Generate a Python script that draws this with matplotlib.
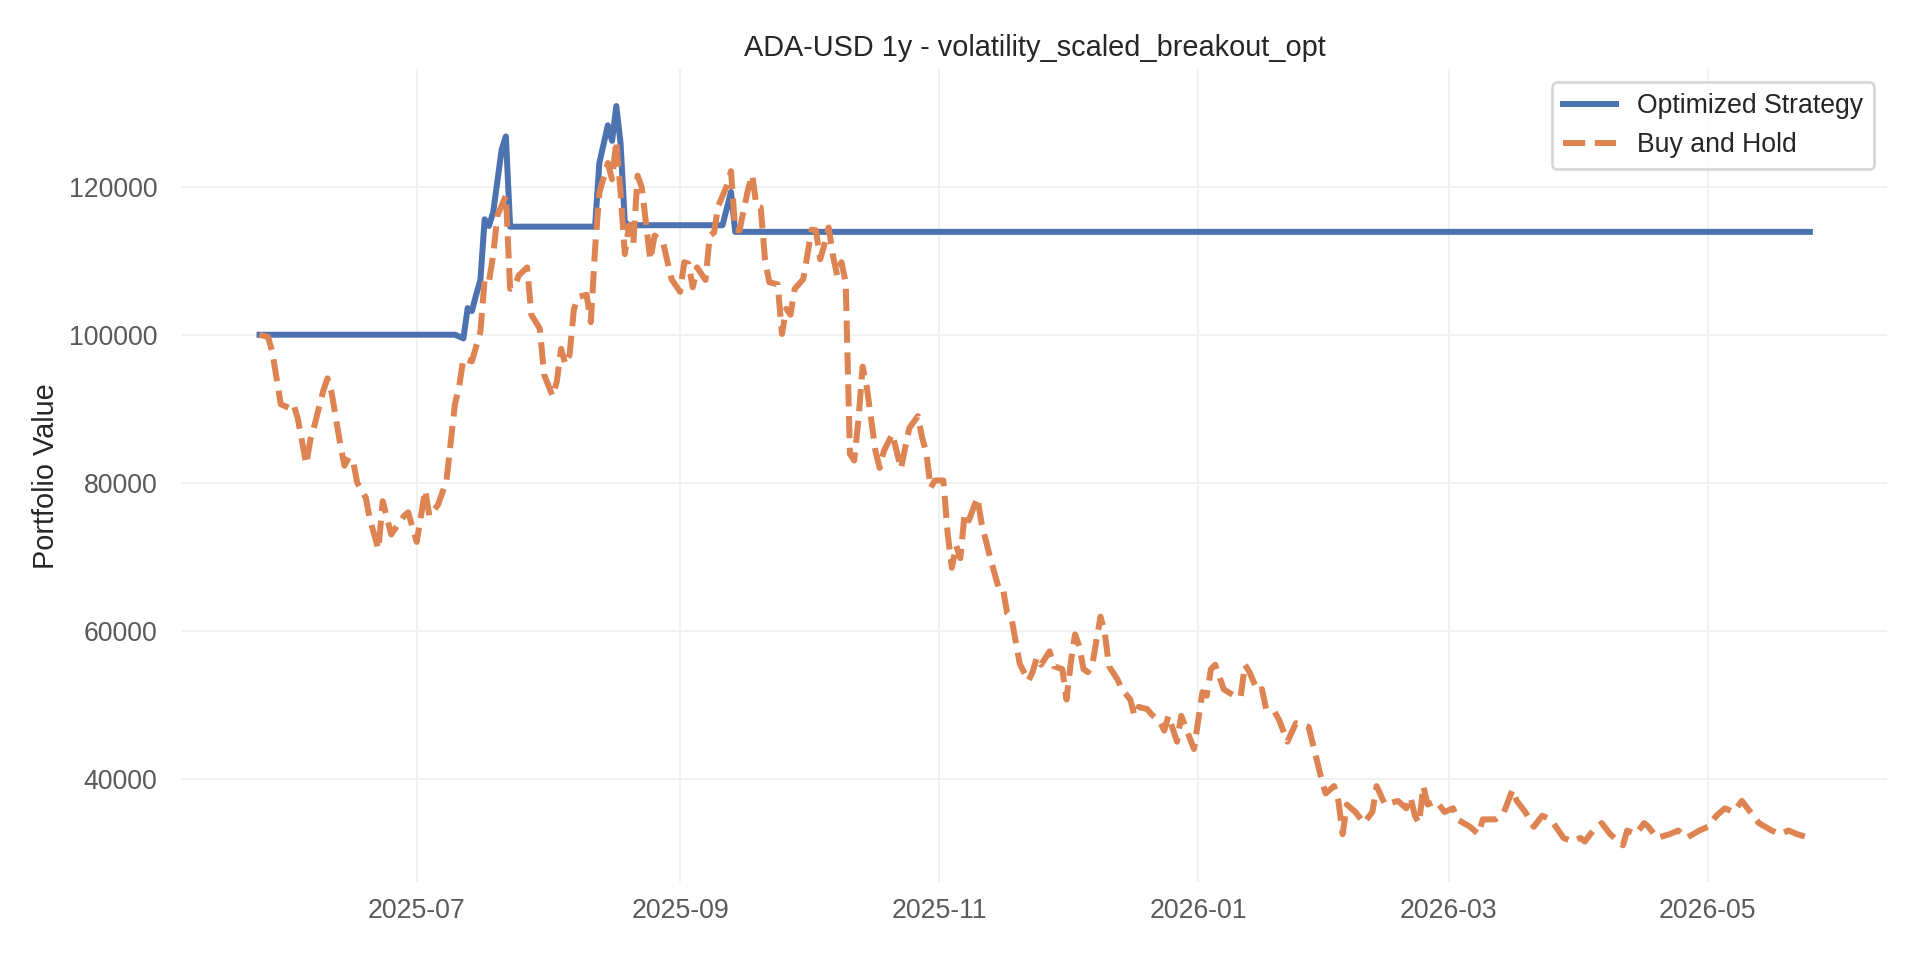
import matplotlib
matplotlib.use("Agg")
import matplotlib.pyplot as plt
import matplotlib.dates as mdates
import pandas as pd

TITLE = "ADA-USD 1y - volatility_scaled_breakout_opt"

# strategy equity curve (vertices only)
strategy_dates = [
    "2025-05-25", "2025-07-10", "2025-07-12", "2025-07-13", "2025-07-14",
    "2025-07-15", "2025-07-16", "2025-07-17", "2025-07-18", "2025-07-19",
    "2025-07-21", "2025-07-22", "2025-07-23", "2025-08-12", "2025-08-13",
    "2025-08-15", "2025-08-16", "2025-08-17", "2025-08-18", "2025-08-19",
    "2025-08-20", "2025-09-11", "2025-09-13", "2025-09-14", "2026-05-25",
]
strategy_values = [
    100000, 100000, 99500, 103600, 103200,
    105400, 107400, 115600, 114700, 116500,
    125000, 126800, 114600, 114600, 123200,
    128300, 126200, 130900, 125900, 115200,
    114800, 114800, 119300, 113900, 113900,
]

# buy and hold curve
bh_dates = [
    "2025-05-25", "2025-05-27", "2025-05-28", "2025-05-30", "2025-06-01",
    "2025-06-02", "2025-06-03", "2025-06-05", "2025-06-06", "2025-06-07",
    "2025-06-09", "2025-06-10", "2025-06-11", "2025-06-13", "2025-06-14",
    "2025-06-15", "2025-06-16", "2025-06-17", "2025-06-19", "2025-06-20",
    "2025-06-22", "2025-06-23", "2025-06-25", "2025-06-28", "2025-06-29",
    "2025-07-01", "2025-07-03", "2025-07-04", "2025-07-06", "2025-07-08",
    "2025-07-10", "2025-07-11", "2025-07-12", "2025-07-14", "2025-07-16",
    "2025-07-17", "2025-07-18", "2025-07-19", "2025-07-20", "2025-07-22",
    "2025-07-23", "2025-07-24", "2025-07-25", "2025-07-27", "2025-07-28",
    "2025-07-30", "2025-07-31", "2025-08-02", "2025-08-03", "2025-08-04",
    "2025-08-05", "2025-08-06", "2025-08-07", "2025-08-08", "2025-08-10",
    "2025-08-11", "2025-08-12", "2025-08-13", "2025-08-15", "2025-08-16",
    "2025-08-17", "2025-08-18", "2025-08-19", "2025-08-20", "2025-08-21",
    "2025-08-22", "2025-08-23", "2025-08-25", "2025-08-26", "2025-08-28",
    "2025-08-30", "2025-09-01", "2025-09-02", "2025-09-03", "2025-09-04",
    "2025-09-05", "2025-09-07", "2025-09-08", "2025-09-09", "2025-09-10",
    "2025-09-12", "2025-09-13", "2025-09-14", "2025-09-15", "2025-09-17",
    "2025-09-18", "2025-09-19", "2025-09-20", "2025-09-21", "2025-09-22",
    "2025-09-24", "2025-09-25", "2025-09-26", "2025-09-27", "2025-09-28",
    "2025-09-30", "2025-10-02", "2025-10-03", "2025-10-04", "2025-10-05",
    "2025-10-06", "2025-10-07", "2025-10-08", "2025-10-09", "2025-10-10",
    "2025-10-11", "2025-10-12", "2025-10-13", "2025-10-14", "2025-10-15",
    "2025-10-17", "2025-10-18", "2025-10-19", "2025-10-21", "2025-10-23",
    "2025-10-24", "2025-10-25", "2025-10-27", "2025-10-28", "2025-10-29",
    "2025-10-30", "2025-10-31", "2025-11-02", "2025-11-03", "2025-11-04",
    "2025-11-05", "2025-11-06", "2025-11-07", "2025-11-08", "2025-11-10",
    "2025-11-11", "2025-11-13", "2025-11-15", "2025-11-16", "2025-11-17",
    "2025-11-18", "2025-11-20", "2025-11-22", "2025-11-23", "2025-11-24",
    "2025-11-25", "2025-11-27", "2025-11-28", "2025-11-30", "2025-12-01",
    "2025-12-02", "2025-12-03", "2025-12-04", "2025-12-05", "2025-12-06",
    "2025-12-07", "2025-12-09", "2025-12-10", "2025-12-11", "2025-12-13",
    "2025-12-14", "2025-12-16", "2025-12-17", "2025-12-18", "2025-12-20",
    "2025-12-21", "2025-12-23", "2025-12-24", "2025-12-25", "2025-12-27",
    "2025-12-28", "2025-12-29", "2025-12-31", "2026-01-02", "2026-01-03",
    "2026-01-04", "2026-01-05", "2026-01-07", "2026-01-10", "2026-01-11",
    "2026-01-12", "2026-01-13", "2026-01-15", "2026-01-16", "2026-01-17",
    "2026-01-19", "2026-01-20", "2026-01-22", "2026-01-24", "2026-01-27",
    "2026-01-30", "2026-01-31", "2026-02-02", "2026-02-03", "2026-02-04",
    "2026-02-05", "2026-02-07", "2026-02-09", "2026-02-11", "2026-02-12",
    "2026-02-14", "2026-02-17", "2026-02-19", "2026-02-20", "2026-02-21",
    "2026-02-22", "2026-02-23", "2026-02-24", "2026-02-26", "2026-02-28",
    "2026-03-02", "2026-03-03", "2026-03-06", "2026-03-08", "2026-03-09",
    "2026-03-12", "2026-03-14", "2026-03-16", "2026-03-17", "2026-03-19",
    "2026-03-21", "2026-03-23", "2026-03-25", "2026-03-28", "2026-03-30",
    "2026-04-01", "2026-04-02", "2026-04-04", "2026-04-06", "2026-04-08",
    "2026-04-11", "2026-04-12", "2026-04-14", "2026-04-16", "2026-04-17",
    "2026-04-19", "2026-04-22", "2026-04-24", "2026-04-26", "2026-04-29",
    "2026-05-01", "2026-05-03", "2026-05-05", "2026-05-07", "2026-05-09",
    "2026-05-11", "2026-05-13", "2026-05-16", "2026-05-18", "2026-05-20",
    "2026-05-22", "2026-05-25",
]
bh_values = [
    100000, 99700, 97700, 90600, 90100,
    90600, 88700, 82500, 85900, 87900,
    92400, 94100, 92100, 85200, 82300,
    83400, 83000, 80000, 78000, 75000,
    71000, 77500, 73000, 75500, 76000,
    72000, 79000, 75500, 77000, 80200,
    90600, 93000, 96800, 96400, 100400,
    107500, 107100, 110700, 116100, 118800,
    106200, 106400, 108000, 109100, 102700,
    100800, 94600, 91700, 93700, 98100,
    96000, 97300, 103400, 105100, 105400,
    101700, 111600, 119200, 123200, 121000,
    126200, 119200, 110900, 114800, 112300,
    121500, 119900, 110100, 113400, 112500,
    107500, 105800, 109800, 109600, 106400,
    109100, 107400, 113400, 113800, 117400,
    120100, 122100, 114200, 114100, 119600,
    121600, 117400, 117200, 110200, 107100,
    106800, 100100, 103500, 102700, 106200,
    107500, 114200, 114100, 110200, 112200,
    114500, 110700, 108000, 109800, 107100,
    83900, 83000, 88500, 95700, 92800,
    84300, 82000, 84300, 86600, 81900,
    84700, 87400, 89000, 86100, 84000,
    79300, 80300, 80300, 73200, 68500,
    71500, 69800, 75800, 74900, 78000,
    74500, 69900, 65800, 65800, 62400,
    61800, 55500, 53200, 54400, 56400,
    55400, 57200, 55200, 54800, 50700,
    55700, 59500, 57900, 54800, 54400,
    55200, 61900, 59700, 55200, 53400,
    52100, 50700, 48500, 49700, 49400,
    48700, 47700, 46500, 48500, 45000,
    48500, 47000, 44000, 51700, 51200,
    54800, 55400, 52100, 51000, 51100,
    55400, 54500, 51800, 52100, 49400,
    49000, 48000, 45000, 47500, 47000,
    40000, 38000, 39000, 37000, 32500,
    36500, 35500, 34000, 35500, 39000,
    36500, 37000, 36000, 37500, 35000,
    34000, 39000, 36500, 37000, 35500,
    36000, 34500, 33500, 32500, 34500,
    34500, 35500, 38500, 37000, 35500,
    33500, 35000, 34500, 32000, 31500,
    32000, 31500, 33000, 34000, 32500,
    31000, 33000, 32500, 34000, 33500,
    32000, 32500, 33000, 32000, 33000,
    33500, 35000, 36000, 35500, 37000,
    35500, 34000, 33000, 32500, 33000,
    32500, 32000,
]

BLUE = "#4C72B0"
ORANGE = "#DD8452"

plt.rcParams["font.family"] = ["Liberation Sans", "DejaVu Sans"]

strategy = pd.Series(strategy_values, index=pd.to_datetime(strategy_dates))
buy_hold = pd.Series(bh_values, index=pd.to_datetime(bh_dates))

fig, ax = plt.subplots(figsize=(12, 6), dpi=160)
fig.subplots_adjust(left=0.0948, right=0.983, top=0.928, bottom=0.081)

ax.plot(strategy.index, strategy.values, color=BLUE, lw=2.7, label="Optimized Strategy")
ax.plot(buy_hold.index, buy_hold.values, color=ORANGE, lw=2.7, ls="--", label="Buy and Hold")

ax.set_title(TITLE, fontsize=13, color="#262626")
ax.set_ylabel("Portfolio Value", fontsize=13, color="#262626")

ax.xaxis.set_major_locator(mdates.MonthLocator(bymonth=[1, 3, 5, 7, 9, 11]))
ax.xaxis.set_major_formatter(mdates.DateFormatter("%Y-%m"))
ax.tick_params(axis="both", length=0, labelsize=12, labelcolor="#5a5a5a")
ax.tick_params(axis="x", pad=7)
ax.tick_params(axis="y", pad=11)

ax.grid(True, color="#f1f1f1", lw=0.9)
ax.set_axisbelow(True)
for spine in ax.spines.values():
    spine.set_visible(False)

leg = ax.legend(loc="upper right", fontsize=12, frameon=True, fancybox=True)
leg.get_frame().set_edgecolor("#cccccc")
leg.get_frame().set_linewidth(1.2)
for t in leg.get_texts():
    t.set_color("#262626")

fig.savefig("out.png", dpi=160, facecolor="white")
